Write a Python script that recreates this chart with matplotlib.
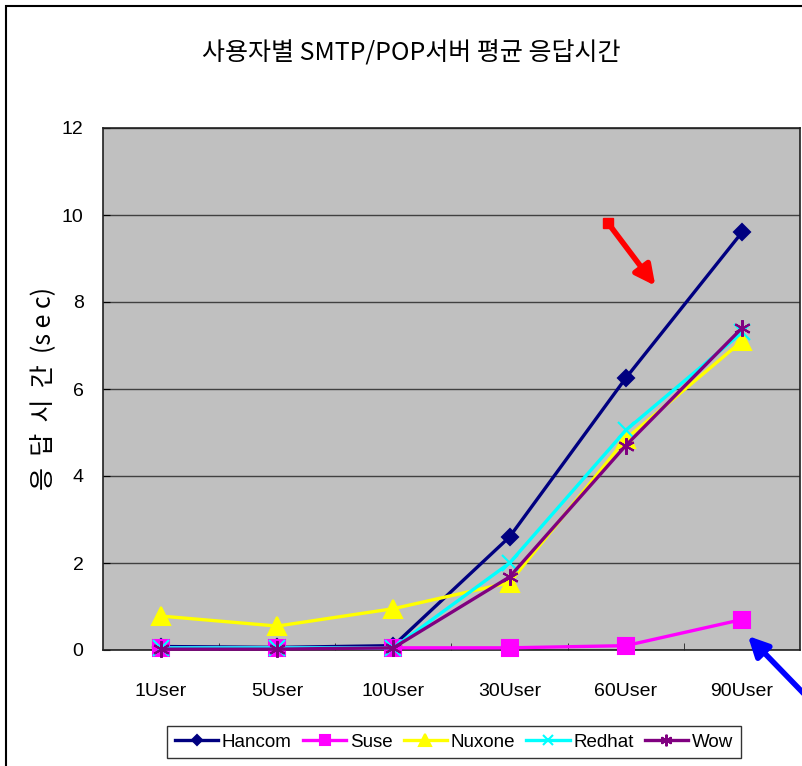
import matplotlib
matplotlib.use('Agg')
import matplotlib.pyplot as plt
from matplotlib.patches import Rectangle, FancyArrowPatch
import numpy as np

plt.rcParams['font.family'] = ['Liberation Sans', 'Noto Sans CJK KR', 'DejaVu Sans']

# data
users = ['1User', '5User', '10User', '30User', '60User', '90User']
hancom = [0.08, 0.06, 0.10, 2.60, 6.25, 9.60]
suse = [0.05, 0.05, 0.05, 0.05, 0.10, 0.70]
nuxone = [0.78, 0.55, 0.95, 1.55, 4.85, 7.10]
redhat = [0.05, 0.05, 0.05, 2.00, 5.05, 7.30]
wow = [0.02, 0.02, 0.05, 1.68, 4.70, 7.40]

series = [
    ('Hancom', hancom, '#000080', 'D', 8),
    ('Suse', suse, '#FF00FF', 's', 11),
    ('Nuxone', nuxone, '#FFFF00', '^', 13),
    ('Redhat', redhat, '#00FFFF', 'x', 11),
    ('Wow', wow, '#800080', (6, 2, 0), 12),
]

fig = plt.figure(figsize=(8.03, 7.66), dpi=100)
ax = fig.add_axes([103 / 803, 1 - 650 / 766, 697 / 803, 522 / 766])
ax.set_facecolor('#C0C0C0')

x = np.arange(len(users))
for name, vals, color, marker, ms in series:
    ax.plot(x, vals, color=color, lw=2.4, marker=marker, markersize=ms,
            markerfacecolor=color, markeredgecolor=color, markeredgewidth=1.5,
            label=name, clip_on=False, zorder=3)

ax.set_xlim(-0.5, len(users) - 0.5)
ax.set_ylim(0, 12)
ax.set_yticks(range(0, 13, 2))
ax.set_xticks(x)
ax.set_xticklabels(users)
ax.set_xticks(np.arange(0.5, len(users) - 1), minor=True)
ax.tick_params(axis='x', which='major', length=0, pad=24, labelsize=14)
ax.tick_params(axis='x', which='minor', direction='in', length=5, color='#202020')
ax.tick_params(axis='y', direction='in', length=5, pad=14, labelsize=14)
ax.yaxis.grid(True, color='#404040', lw=1)
ax.set_axisbelow(True)
for s in ax.spines.values():
    s.set_color('#202020')
    s.set_linewidth(1.2)

ax.set_ylabel('응  답  시  간  (s e c)', fontsize=18, labelpad=4,
              family=['Noto Sans CJK KR', 'DejaVu Sans'])
fig.text(411 / 803, 1 - 52 / 766, '사용자별 SMTP/POP서버 평균 응답시간', ha='center', va='center',
         fontsize=18, family=['Noto Sans CJK KR', 'DejaVu Sans'])

leg = fig.legend(loc='center', bbox_to_anchor=(454 / 803, 1 - 742 / 766), ncol=5,
                 frameon=True, fancybox=False, edgecolor='black', fontsize=13.5,
                 handlelength=2.3, columnspacing=0.6, handletextpad=0.2,
                 borderpad=0.4, markerscale=0.7)
leg.get_frame().set_linewidth(1.0)

# outer chart border (cut off at right/bottom in the reference)
fig.patches.append(Rectangle((6 / 803, -0.2), 1.2, 1 - 6 / 766 + 0.2, transform=fig.transFigure,
                             fill=False, edgecolor='black', lw=1.5))

# annotation arrows
fig.patches.append(Rectangle((603 / 803, 1 - 228 / 766), 10 / 803, 10 / 766,
                             transform=fig.transFigure, color='red'))
fig.add_artist(FancyArrowPatch(
    (608 / 803, 1 - 223 / 766), (657 / 803, 1 - 288 / 766), transform=fig.transFigure,
    arrowstyle='-|>,head_length=12,head_width=6', color='red', lw=4, mutation_scale=1))
fig.add_artist(FancyArrowPatch(
    (810 / 803, 1 - 700 / 766), (746 / 803, 1 - 634 / 766), transform=fig.transFigure,
    arrowstyle='-|>,head_length=12,head_width=6', color='blue', lw=4, mutation_scale=1))

fig.savefig('out.png', dpi=100)
